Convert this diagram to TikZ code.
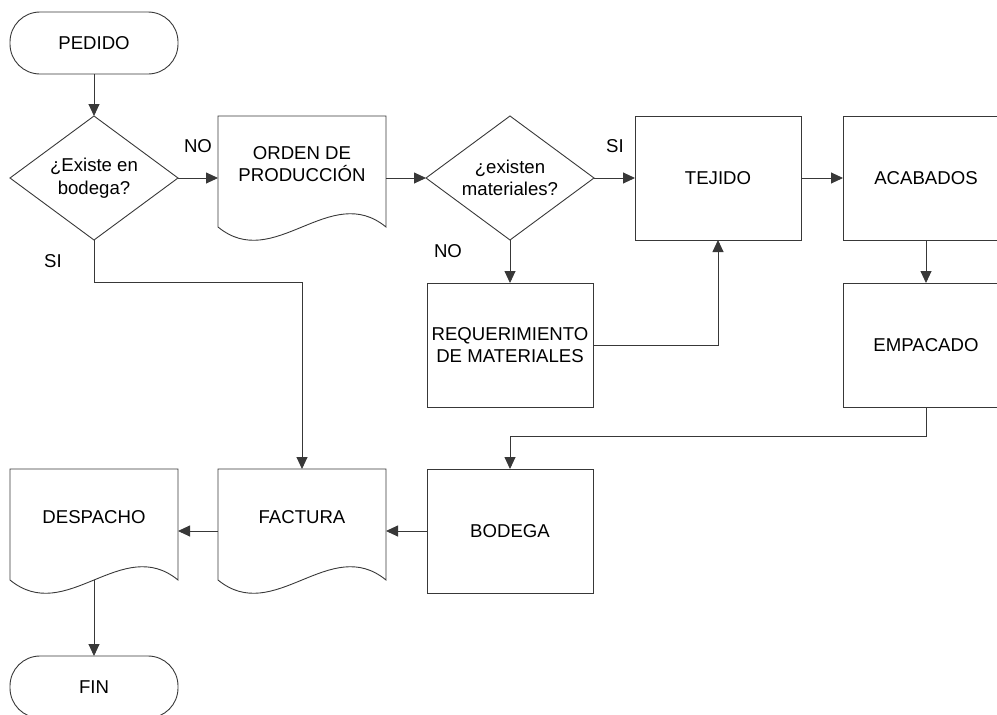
\documentclass[tikz,border=0pt]{standalone}
\usepackage{fontspec}
\setmainfont{Liberation Sans}
\usetikzlibrary{shapes.geometric,arrows.meta}
\begin{document}
\begin{tikzpicture}[x=1pt,y=-1pt,font=\fontsize{18.6}{22.5}\selectfont,
  line/.style={draw=black!78,line width=0.9pt},
  arr/.style={line,-{Triangle[length=12pt,width=11pt]}},
  box/.style={line,rectangle,minimum width=166pt,minimum height=124pt,inner sep=0pt,outer sep=0pt,align=center},
  doc/.style={box,draw=none,minimum width=168pt,text depth=28pt},
  term/.style={line,rectangle,rounded corners=30pt,minimum width=168pt,minimum height=62pt,outer sep=0pt},
  decision/.style={line,diamond,aspect=1.35,minimum width=168pt,minimum height=124pt,inner sep=-8pt,outer sep=0pt,align=center}]
\useasboundingbox (0,0) rectangle (997,715);
\def\docOutline#1{%
  \draw[line] (#1.north west) -- (#1.north east) -- ++(0,111)
    .. controls +(-56,-46) and +(56,46) .. ([yshift=-111pt]#1.north west) -- cycle;}
\node[term] (pedido) at (94,43) {PEDIDO};
\node[decision] (existe) at (94,178) {¿Existe en\\ bodega?};
\node[doc] (orden) at (302,178) {ORDEN DE\\ PRODUCCIÓN};
\node[decision] (materiales) at (510,178) {¿existen\\ materiales?};
\node[box] (tejido) at (718,178) {TEJIDO};
\node[box] (acabados) at (926,178) {ACABADOS};
\node[box] (requerimiento) at (510,345) {REQUERIMIENTO\\ DE MATERIALES};
\node[box] (empacado) at (926,345) {EMPACADO};
\node[box] (bodega) at (510,531) {BODEGA};
\node[doc] (factura) at (302,531) {FACTURA};
\node[doc] (despacho) at (94,531) {DESPACHO};
\node[term] (fin) at (94,687) {FIN};
\foreach \d in {orden,factura,despacho} \docOutline{\d};
\node (noOrden) at (198,146) {NO};
\node (siTejido) at (615,146) {SI};
\node (noReq) at (448,251) {NO};
\node (siFactura) at (53,261) {SI};
\draw[arr] (pedido.south) -- (existe.north);
\draw[arr] (existe.east) -- (orden.west);
\draw[arr] (orden.east) -- (materiales.west);
\draw[arr] (materiales.east) -- (tejido.west);
\draw[arr] (tejido.east) -- (acabados.west);
\draw[arr] (materiales.south) -- (requerimiento.north);
\draw[arr] (requerimiento.east) -| (tejido.south);
\draw[arr] (acabados.south) -- (empacado.north);
\draw[arr] (empacado.south) -- ++(0,29) -| (bodega.north);
\draw[arr] (bodega.west) -- (factura.east);
\draw[arr] (factura.west) -- (despacho.east);
\draw[arr] (existe.south) -- ++(0,42) -| (factura.north);
\draw[arr] ([yshift=13pt]despacho.south) -- (fin.north);
\end{tikzpicture}
\end{document}
